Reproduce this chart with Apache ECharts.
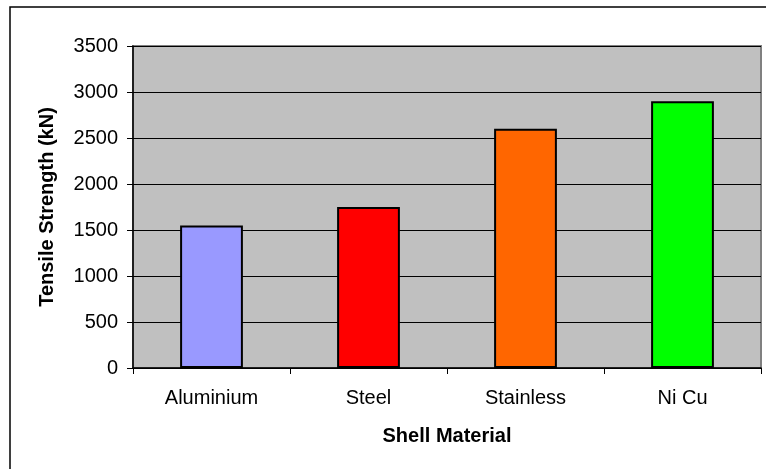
<!DOCTYPE html>
<html>
<head>
<meta charset="utf-8">
<script src="https://cdn.jsdelivr.net/npm/echarts@6/dist/echarts.min.js"></script>
<style>
html, body { margin: 0; padding: 0; background: #fff; }
#main { width: 766px; height: 469px; }
</style>
</head>
<body>
<div id="main"></div>
<script>
// data
var materials = ['Aluminium', 'Steel', 'Stainless', 'Ni Cu'];
var strength = [1550, 1750, 2600, 2900];
var barColors = ['#9999FF', '#FF0000', '#FF6600', '#00FF00'];

var myChart = echarts.init(document.getElementById('main'));

var option = {
    backgroundColor: '#fff',
    animation: false,
    textStyle: { fontFamily: 'Liberation Sans, Arial, sans-serif' },
    graphic: [
        {
            type: 'rect',
            shape: { x: 10, y: 7, width: 800, height: 500 },
            style: { fill: 'none', stroke: '#000', lineWidth: 1.5 },
            silent: true
        }
    ],
    grid: {
        left: 133, top: 46, right: 5, bottom: 101,
        show: true,
        backgroundColor: '#C0C0C0',
        borderColor: '#808080',
        borderWidth: 2
    },
    xAxis: {
        type: 'category',
        data: materials,
        name: 'Shell Material',
        nameLocation: 'middle',
        nameGap: 58,
        nameTextStyle: { fontSize: 20, fontWeight: 'bold', color: '#000' },
        axisLine: { lineStyle: { color: '#000', width: 1.5 } },
        axisTick: { show: true, length: 6, lineStyle: { color: '#000' } },
        axisLabel: { fontSize: 20, color: '#000', margin: 20 }
    },
    yAxis: {
        type: 'value',
        min: 0,
        max: 3500,
        interval: 500,
        name: 'Tensile Strength (kN)',
        nameLocation: 'middle',
        nameGap: 76,
        nameTextStyle: { fontSize: 20, fontWeight: 'bold', color: '#000' },
        axisLine: { show: true, lineStyle: { color: '#000', width: 1.5 } },
        axisTick: { show: true, length: 6, lineStyle: { color: '#000' } },
        axisLabel: {
            fontSize: 20, color: '#000', margin: 15,
            formatter: function (v) { return String(v); }
        },
        splitLine: { lineStyle: { color: '#000', width: 1 } }
    },
    series: [
        {
            type: 'bar',
            barWidth: '40%',
            data: strength.map(function (v, i) {
                return { value: v, itemStyle: { color: barColors[i] } };
            }),
            itemStyle: { borderColor: '#000', borderWidth: 2 }
        }
    ]
};

myChart.setOption(option);
</script>
</body>
</html>
